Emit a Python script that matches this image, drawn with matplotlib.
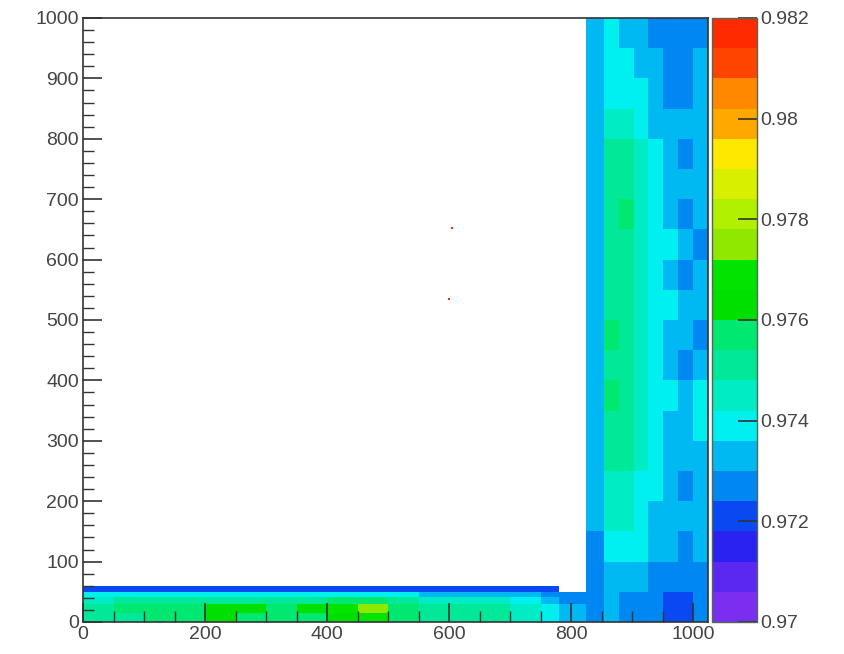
"""
Recreates the 2D efficiency map (L-shaped region) with its stepped colour scale.
Cell values are coarse estimates of the local level read from the picture.
"""

import numpy as np
import matplotlib
matplotlib.use("Agg")
import matplotlib.pyplot as plt
from matplotlib.colors import BoundaryNorm, ListedColormap

plt.rcParams["font.family"] = ["Liberation Sans", "DejaVu Sans"]

# colour scale, bottom to top
SCALE_TICKS = [0.97, 0.972, 0.974, 0.976, 0.978, 0.98, 0.982]
SCALE_LABELS = ["0.97", "0.972", "0.974", "0.976", "0.978", "0.98", "0.982"]
BAND_COLORS = [
    "#7a2ff0", "#5a28f0", "#2a22f0", "#0a48f2", "#0088f2",
    "#00b8f2", "#00f0f0", "#00ecc4", "#00e898", "#00e870",
    "#00e000", "#00e400", "#90e800", "#b0f000", "#d8f000",
    "#ffe800", "#ffa800", "#ff8800", "#ff4400", "#ff2a00",
]

# vertical arm of the L
ARM_X = [824, 854, 878, 902, 926, 950, 975, 1000, 1024]
ARM_Y = [0, 50, 100, 150, 200, 250, 300, 350, 400, 450, 500,
         550, 600, 650, 700, 750, 800, 850, 900, 950, 1000]
ARM_VALUES = [
    [.9728, .9730, .9727, .9726, .9724, .9723, .9722, .9727],
    [.9725, .9732, .9732, .9731, .9728, .9726, .9727, .9729],
    [.9727, .9741, .9741, .9737, .9733, .9732, .9729, .9733],
    [.9730, .9744, .9744, .9738, .9735, .9732, .9733, .9733],
    [.9731, .9746, .9745, .9741, .9737, .9733, .9729, .9733],
    [.9732, .9748, .9748, .9742, .9738, .9732, .9733, .9734],
    [.9733, .9752, .9752, .9744, .9738, .9733, .9733, .9737],
    [.9733, .9755, .9753, .9745, .9738, .9737, .9733, .9737],
    [.9735, .9752, .9750, .9746, .9740, .9735, .9729, .9734],
    [.9735, .9757, .9752, .9747, .9740, .9735, .9733, .9729],
    [.9733, .9752, .9749, .9747, .9741, .9737, .9733, .9733],
    [.9733, .9752, .9751, .9746, .9740, .9734, .9729, .9733],
    [.9735, .9752, .9752, .9747, .9739, .9737, .9732, .9729],
    [.9735, .9753, .9755, .9747, .9737, .9732, .9729, .9733],
    [.9735, .9750, .9751, .9745, .9738, .9733, .9732, .9734],
    [.9734, .9749, .9750, .9742, .9736, .9733, .9729, .9733],
    [.9733, .9745, .9746, .9740, .9734, .9731, .9730, .9733],
    [.9733, .9741, .9740, .9736, .9731, .9729, .9729, .9732],
    [.9732, .9737, .9736, .9733, .9730, .9726, .9727, .9731],
    [.9731, .9736, .9734, .9733, .9729, .9727, .9727, .9729],
]

# horizontal arm of the L
STRIP_X = [0, 50, 100, 150, 200, 250, 300, 350, 400, 450,
           500, 550, 600, 650, 700, 750, 780, 824]
STRIP_Y = [0, 15, 30, 42, 50, 60]
STRIP_VALUES = [
    [.9752, .9753, .9755, .9756, .9760, .9758, .9756, .9757, .9760,
     .9766, .9755, .9750, .9749, .9748, .9745, .9738, .9731],
    [.9751, .9754, .9756, .9757, .9761, .9760, .9758, .9760, .9768,
     .9775, .9756, .9751, .9750, .9748, .9742, .9737, .9730],
    [.9746, .9748, .9749, .9750, .9752, .9752, .9752, .9753, .9755,
     .9757, .9750, .9746, .9744, .9742, .9738, .9733, .9727],
    [.9736, .9737, .9737, .9738, .9739, .9740, .9740, .9740, .9741,
     .9741, .9737, .9735, .9733, .9732, .9730, .9727, .9724],
    [.9722, .9720, .9721, .9722, .9722, .9723, .9722, .9721, .9720,
     .9720, .9722, .9721, .9722, .9722, .9722, .9722, np.nan],
]

# two isolated hot cells in the empty area
HOT_X = [604, 599]
HOT_Y = [652, 535]
HOT_VALUES = [0.9815, 0.9815]

X_MAJOR = [0, 200, 400, 600, 800, 1000]
Y_MAJOR = [0, 100, 200, 300, 400, 500, 600, 700, 800, 900, 1000]

FIG_W, FIG_H = 845, 654
TEXT_COLOR = "#444444"
FRAME_COLOR = "#333333"


def to_fig(left, top, right, bottom):
    return [left / FIG_W, 1 - bottom / FIG_H, (right - left) / FIG_W, (bottom - top) / FIG_H]


def main():
    fig = plt.figure(figsize=(FIG_W / 100, FIG_H / 100), dpi=100)
    ax = fig.add_axes(to_fig(83, 18, 708, 622))
    cax = fig.add_axes(to_fig(712, 18, 757, 622))

    levels = np.linspace(SCALE_TICKS[0], SCALE_TICKS[-1], len(BAND_COLORS) + 1)
    cmap = ListedColormap(BAND_COLORS)
    norm = BoundaryNorm(levels, cmap.N)

    mesh = ax.pcolormesh(ARM_X, ARM_Y, np.array(ARM_VALUES), cmap=cmap, norm=norm)
    ax.pcolormesh(STRIP_X, STRIP_Y, np.ma.masked_invalid(STRIP_VALUES), cmap=cmap, norm=norm)
    ax.scatter(HOT_X, HOT_Y, c=HOT_VALUES, cmap=cmap, norm=norm, s=2, marker="s", linewidths=0)

    ax.set_xlim(0, 1024)
    ax.set_ylim(0, 1000)
    ax.set_xticks(X_MAJOR)
    ax.set_yticks(Y_MAJOR)
    ax.set_xticks(range(0, 1024, 50), minor=True)
    ax.set_yticks(range(0, 1001, 20), minor=True)
    ax.tick_params(which="major", direction="in", length=14, width=1.2, color=FRAME_COLOR,
                   labelsize=14, labelcolor=TEXT_COLOR, pad=3)
    ax.tick_params(which="minor", direction="in", length=8, width=1.0, color=FRAME_COLOR)
    for spine in ax.spines.values():
        spine.set_color(FRAME_COLOR)
        spine.set_linewidth(1.2)

    cbar = fig.colorbar(mesh, cax=cax, ticks=SCALE_TICKS, spacing="proportional")
    cbar.ax.set_yticklabels(SCALE_LABELS)
    cbar.ax.minorticks_off()
    cbar.ax.tick_params(direction="in", length=14, width=1.2, color=FRAME_COLOR,
                        labelsize=14, labelcolor=TEXT_COLOR, pad=2)
    cbar.outline.set_edgecolor("#556655")
    cbar.outline.set_linewidth(1.0)

    fig.savefig("out.png", dpi=100)
    plt.close(fig)


if __name__ == "__main__":
    main()
